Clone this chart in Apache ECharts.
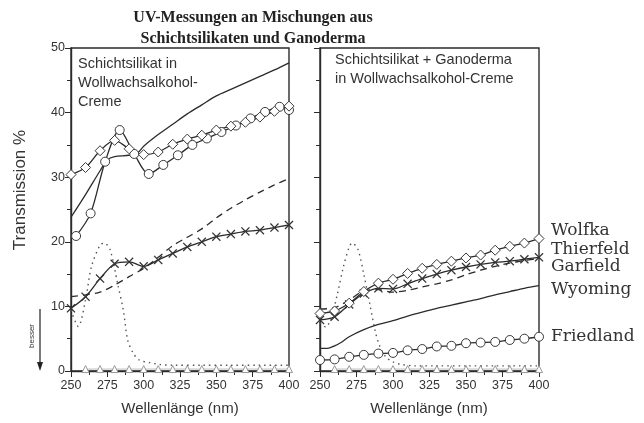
<!DOCTYPE html>
<html><head><meta charset="utf-8">
<script src="https://cdn.jsdelivr.net/npm/echarts/dist/echarts.min.js"></script>
<style>html,body{margin:0;padding:0;background:#fff}#c{width:644px;height:423px}</style>
</head><body><div id="c"></div>
<script>
// ---------- data (wavelength in nm, transmission in %) ----------
var wl10 = [250,260,270,280,290,300,310,320,330,340,350,360,370,380,390,400];
var wlTri = [260,270,280,290,300,310,320,330,340,350,360,370,380,390,400];
var triVals = [0.3,0.3,0.3,0.3,0.3,0.3,0.3,0.3,0.3,0.3,0.3,0.3,0.3,0.3,0.3];

// left panel: Schichtsilikat in Wollwachsalkohol-Creme
var leftSolidX = [250,260,270,275,280,290,296,300,310,320,330,340,350,360,370,380,390,400];
var leftSolidY = [23.8,27.3,31.0,32.7,33.2,33.4,33.8,34.8,36.6,38.2,39.8,41.2,42.6,43.6,44.6,45.6,46.6,47.7];
var leftDiamond = [30.4,31.5,34.1,35.7,34.4,33.5,33.9,35.1,35.9,36.5,37.3,37.9,38.5,39.3,40.2,41.0];
var leftCircleX = [253.5,263.5,273.5,283.5,293.5,303.5,313.5,323.5,333.5,343.5,353.5,363.5,373.5,383.5,393.5,400];
var leftCircleY = [20.9,24.4,32.4,37.3,33.6,30.5,31.9,33.4,35.0,36.0,37.0,38.0,39.1,40.1,40.9,40.4];
var leftDashed = [11.5,11.8,12.2,13.3,14.6,15.9,17.6,19.4,20.7,22.0,23.7,25.2,26.5,27.7,28.8,29.8];
var leftCross = [9.7,11.5,14.3,16.6,16.9,16.2,17.2,18.2,19.2,20.0,20.8,21.2,21.6,21.8,22.2,22.6];
var leftDotX = [250,255,260,264,270,273,277,282,286,289,293,297,304,311,320,340,360,380,400];
var leftDotY = [9.4,6.9,11.0,16.1,19.5,19.8,18.7,13.6,9.4,4.8,2.7,1.7,1.3,1.0,0.9,0.9,0.9,0.9,0.9];

// right panel: Schichtsilikat + Ganoderma in Wollwachsalkohol-Creme
var rightWolfka = [8.9,9.3,10.5,12.3,13.6,14.2,15.1,15.9,16.5,17.0,17.5,17.95,18.7,19.3,19.8,20.5];
var rightThierfeld = [7.9,8.4,10.3,12.0,12.8,12.7,13.5,14.3,15.0,15.6,16.1,16.5,16.8,17.0,17.3,17.6];
var rightGarfield = [9.6,9.8,11.0,12.4,12.6,12.2,12.5,13.0,13.5,14.1,14.9,15.6,16.2,16.7,17.1,17.4];
var rightWyomingX = [250,255,260,265,270,280,290,300,310,320,330,340,350,360,370,380,390,400];
var rightWyomingY = [3.5,3.5,3.9,4.5,5.3,6.4,7.2,7.8,8.5,9.1,9.7,10.2,10.7,11.2,11.8,12.3,12.8,13.2];
var rightFriedland = [1.7,1.8,2.2,2.5,2.7,2.8,3.2,3.4,3.8,3.9,4.3,4.4,4.5,4.8,5.0,5.3];
var rightDotX = [250,254,258,262,266,270,272,276,280,284,288,291,295,300,306,315,330,350,370,400];
var rightDotY = [7.5,6.8,8.5,12.0,16.1,19.2,19.8,18.8,15.0,10.5,6.0,3.8,2.2,1.4,1.0,0.8,0.8,0.8,0.8,0.8];

var xTickLabels = ['250','275','300','325','350','375','400'];
var seriesNames = ['Wolfka','Thierfeld','Garfield','Wyoming','Friedland'];

// ---------- helpers ----------
function zip(xs, ys){ return xs.map(function(x,i){ return [x, ys[i]]; }); }
var INK = '#2b2b2b';
var crossPath = 'path://M0,1L1,0L5,4L9,0L10,1L6,5L10,9L9,10L5,6L1,10L0,9L4,5Z';

function lineSeries(idx, data, opts){
  var s = {
    type:'line', xAxisIndex:idx, yAxisIndex:idx, data:data,
    smooth:0.3, showSymbol:false, symbol:'none', animation:false,
    lineStyle:{color:INK, width:1.3}, z:2
  };
  for (var k in opts) s[k] = opts[k];
  return s;
}
function marked(idx, data, symbol, size, extra){
  var o = {
    symbol:symbol, symbolSize:size, showSymbol:true,
    itemStyle:{color:'#fff', borderColor:'#3a3a3a', borderWidth:1}
  };
  if (extra) for (var k in extra) o[k] = extra[k];
  return lineSeries(idx, data, o);
}
function crossSeries(idx, data){
  return lineSeries(idx, data, {symbol:crossPath, symbolSize:9, showSymbol:true,
    itemStyle:{color:'#333', borderWidth:0}});
}
function dottedSeries(idx, data){
  return lineSeries(idx, data, {lineStyle:{color:'#555', width:1.4, type:[1.5,4]}, smooth:0.3});
}
function dashedSeries(idx, data){
  return lineSeries(idx, data, {lineStyle:{color:INK, width:1.3, type:[7,5]}});
}
function triSeries(idx, data){
  return lineSeries(idx, data, {symbol:'triangle', symbolSize:7, showSymbol:true,
    lineStyle:{color:'#aaa', width:0.8},
    itemStyle:{color:'#fff', borderColor:'#999', borderWidth:1}, z:1});
}

function xAx(idx){
  return {
    type:'value', gridIndex:idx, min:250, max:400, interval:25,
    axisLine:{lineStyle:{color:INK, width:1.4}},
    axisTick:{show:true, length:6, lineStyle:{color:INK}},
    minorTick:{show:true, splitNumber:2, length:4, lineStyle:{color:INK}},
    splitLine:{show:false},
    axisLabel:{fontFamily:'Liberation Sans', fontSize:12.5, color:'#333', margin:8,
      formatter:function(v){ var i = xTickLabels.indexOf(String(v)); return i>=0 ? xTickLabels[i] : ''; }}
  };
}
function yAx(idx, labels){
  return {
    type:'value', gridIndex:idx, min:0, max:50, interval:10,
    axisLine:{show:true, lineStyle:{color:INK, width:1.4}},
    axisTick:{show:true, length:6, lineStyle:{color:INK}},
    minorTick:{show:true, splitNumber:2, length:4, lineStyle:{color:INK}},
    splitLine:{show:false},
    axisLabel:{show:labels, fontFamily:'Liberation Sans', fontSize:12.5, color:'#333', margin:6}
  };
}

function txt(s, x, y, font, align, extra){
  var o = {type:'text', x:x, y:y, silent:true, style:{text:s, font:font, fill:'#333',
    textAlign:align||'left', textVerticalAlign:'middle'}};
  if (extra) for (var k in extra) o[k] = extra[k];
  return o;
}

var chart = echarts.init(document.getElementById('c'), null, {renderer:'canvas'});
var sansF = '14.5px "Liberation Sans", Arial, sans-serif';
var labF = '17px "DejaVu Serif", serif';
chart.setOption({
  backgroundColor:'#fff',
  animation:false,
  grid:[
    {left:71, top:48, width:218, height:323, show:true, borderColor:INK, borderWidth:1.4},
    {left:320, top:48, width:219, height:323, show:true, borderColor:INK, borderWidth:1.4}
  ],
  xAxis:[xAx(0), xAx(1)],
  yAxis:[yAx(0,true), yAx(1,false)],
  series:[
    triSeries(0, zip(wlTri, triVals)),
    dottedSeries(0, zip(leftDotX, leftDotY)),
    dashedSeries(0, zip(wl10, leftDashed)),
    crossSeries(0, zip(wl10, leftCross)),
    lineSeries(0, zip(leftSolidX, leftSolidY), {}),
    marked(0, zip(leftCircleX, leftCircleY), 'circle', 9),
    marked(0, zip(wl10, leftDiamond), 'diamond', 10),

    triSeries(1, zip(wlTri, triVals)),
    dottedSeries(1, zip(rightDotX, rightDotY)),
    lineSeries(1, zip(rightWyomingX, rightWyomingY), {}),
    marked(1, zip(wl10, rightFriedland), 'circle', 9),
    dashedSeries(1, zip(wl10, rightGarfield)),
    crossSeries(1, zip(wl10, rightThierfeld)),
    marked(1, zip(wl10, rightWolfka), 'diamond', 10)
  ],
  graphic:[
    txt('UV-Messungen an Mischungen aus', 253, 18, 'bold 16px "Liberation Serif", serif', 'center', {style:{text:'UV-Messungen an Mischungen aus', font:'bold 16px "Liberation Serif", serif', fill:'#222', textAlign:'center', textVerticalAlign:'middle'}}),
    txt('Schichtsilikaten und Ganoderma', 253, 39, 'bold 16px "Liberation Serif", serif', 'center', {style:{text:'Schichtsilikaten und Ganoderma', font:'bold 16px "Liberation Serif", serif', fill:'#222', textAlign:'center', textVerticalAlign:'middle'}}),
    txt('Schichtsilikat in', 78, 64, sansF),
    txt('Wollwachsalkohol-', 78, 83, sansF),
    txt('Creme', 78, 102, sansF),
    txt('Schichtsilikat + Ganoderma', 335, 60, sansF),
    txt('in Wollwachsalkohol-Creme', 335, 79, sansF),
    txt(seriesNames[0], 551, 231, labF),
    txt(seriesNames[1], 551, 250, labF),
    txt(seriesNames[2], 551, 267, labF),
    txt(seriesNames[3], 551, 290, labF),
    txt(seriesNames[4], 551, 337, labF),
    txt('Wellenlänge (nm)', 180, 409, '15px "Liberation Sans", Arial, sans-serif', 'center'),
    txt('Wellenlänge (nm)', 429, 409, '15px "Liberation Sans", Arial, sans-serif', 'center'),
    txt('Transmission %', 20, 190, '17px "Liberation Sans", Arial, sans-serif', 'center', {rotation:Math.PI/2}),
    txt('besser', 32, 336, '8px "Liberation Sans", Arial, sans-serif', 'center', {rotation:Math.PI/2}),
    {type:'line', silent:true, shape:{x1:40, y1:309, x2:40, y2:364}, style:{stroke:'#222', lineWidth:1.2}},
    {type:'polygon', silent:true, shape:{points:[[37,362],[43,362],[40,371]]}, style:{fill:'#222'}}
  ]
});
</script></body></html>
